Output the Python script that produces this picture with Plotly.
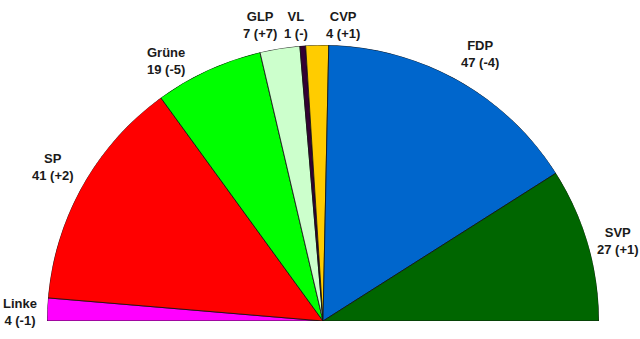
import plotly.graph_objects as go

# Data (left to right around the semicircle)
parties = ["Linke", "SP", "Grüne", "GLP", "VL", "CVP", "FDP", "SVP"]
seats = [4, 41, 19, 7, 1, 4, 47, 27]
changes = ["-1", "+2", "-5", "+7", "-", "+1", "-4", "+1"]
colors = ["#FF00FF", "#FF0000", "#00FF00", "#CCFFCC", "#330033", "#FFCC00", "#0066CC", "#006600"]

# Label positions (pixel centres in the 640x339 canvas)
label_px = [(20, 312), (53, 167), (166, 61), (260, 25), (296, 25), (343, 25), (480, 54), (618, 241)]

W, H = 640, 339
total = sum(seats)
deg_per_seat = 180.0 / total

thetas, widths = [], []
cum = 0
for s in seats:
    thetas.append(180 - (cum + s / 2) * deg_per_seat)
    widths.append(s * deg_per_seat)
    cum += s

fig = go.Figure()
fig.add_trace(go.Barpolar(
    r=[1] * len(seats),
    theta=thetas,
    width=widths,
    marker=dict(color=colors, line=dict(color="#111111", width=0.8)),
    hoverinfo="text",
    text=parties,
))

annotations = []
for p, s, c, (px, py) in zip(parties, seats, changes, label_px):
    annotations.append(dict(
        x=px / W, y=1 - py / H, xref="paper", yref="paper",
        text=f"<b>{p}<br>{s} ({c})</b>",
        showarrow=False, xanchor="center", yanchor="middle",
        font=dict(family="Liberation Sans, Arial, sans-serif", size=13, color="#1a1a1a"),
        align="center",
    ))

left, right, top, base = 47, 599, 45, 321
fig.update_layout(
    width=W, height=H,
    margin=dict(l=0, r=0, t=0, b=0),
    paper_bgcolor="white",
    showlegend=False,
    polar=dict(
        domain=dict(x=[left / W, right / W], y=[1 - base / H, 1 - top / H]),
        sector=[0, 180],
        bgcolor="white",
        radialaxis=dict(range=[0, 1], visible=False, showgrid=False),
        angularaxis=dict(visible=False, showgrid=False, direction="counterclockwise", rotation=0),
    ),
    annotations=annotations,
)

fig.write_html("out.html")
